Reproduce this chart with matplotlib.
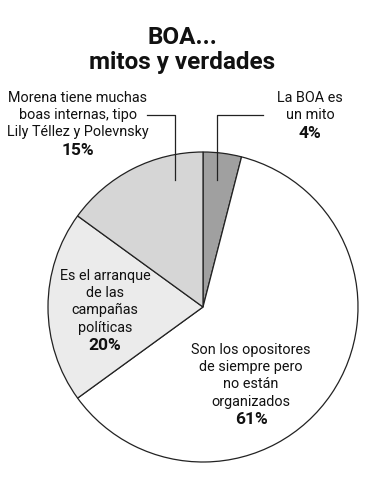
import matplotlib.pyplot as plt

# slices, clockwise from 12 o'clock
labels = ["La BOA es\nun mito",
          "Son los opositores\nde siempre pero\nno están\norganizados",
          "Es el arranque\nde las\ncampañas\npolíticas",
          "Morena tiene muchas\nboas internas, tipo\nLily Téllez y Polevnsky"]
values = [4, 61, 20, 15]
colors = ["#a0a0a0", "#ffffff", "#ebebeb", "#d6d6d6"]

W, H = 380, 500
plt.rcParams['font.family'] = ['Roboto', 'DejaVu Sans']

fig = plt.figure(figsize=(W / 100, H / 100), dpi=100)
fig.patch.set_facecolor("white")

# pie centre (203, 307) px, radius 155 px
cx, cy, r = 203, 307, 155
ax = fig.add_axes([(cx - r) / W, (H - cy - r) / H, 2 * r / W, 2 * r / H])
ax.pie(values, colors=colors, startangle=90, counterclock=False, radius=1,
       wedgeprops=dict(edgecolor="#222222", linewidth=0.9))
ax.set_xlim(-1, 1)
ax.set_ylim(-1, 1)
ax.set_aspect("equal")
ax.axis("off")


def px(x, y):
    return x / W, 1 - y / H


# each line placed separately, 17 px apart
def label(x, y, txt, pct, size=10.4, step=17.2):
    lines = txt.split("\n")
    for i, ln in enumerate(lines):
        fig.text(*px(x, y + i * step), ln, ha="center", va="center",
                 fontsize=size, color="#111111")
    fig.text(*px(x, y + len(lines) * step + 1), str(pct) + "%", ha="center",
             va="center", fontsize=12.5, fontweight="bold", color="#111111")


# title
fig.text(*px(182, 37), "BOA...", ha="center", va="center", fontsize=17.5,
         fontweight="bold", color="#111111")
fig.text(*px(182, 62), "mitos y verdades", ha="center", va="center",
         fontsize=17.5, fontweight="bold", color="#111111")

label(310, 98, labels[0], values[0])
label(78, 98, labels[3], values[3])
label(105, 276, labels[2], values[2])
label(251, 350, labels[1], values[1])


# leader lines (pixel coords -> data coords)
def d(x, y):
    return (x - cx) / r, (cy - y) / r


for pts in [[(263, 115), (217, 115), (217, 180)],
            [(147, 115), (175, 115), (175, 180)]]:
    xs = [d(*p)[0] for p in pts]
    ys = [d(*p)[1] for p in pts]
    ax.plot(xs, ys, color="#222222", linewidth=0.9, clip_on=False)

fig.savefig("out.png", dpi=100, facecolor="white")
